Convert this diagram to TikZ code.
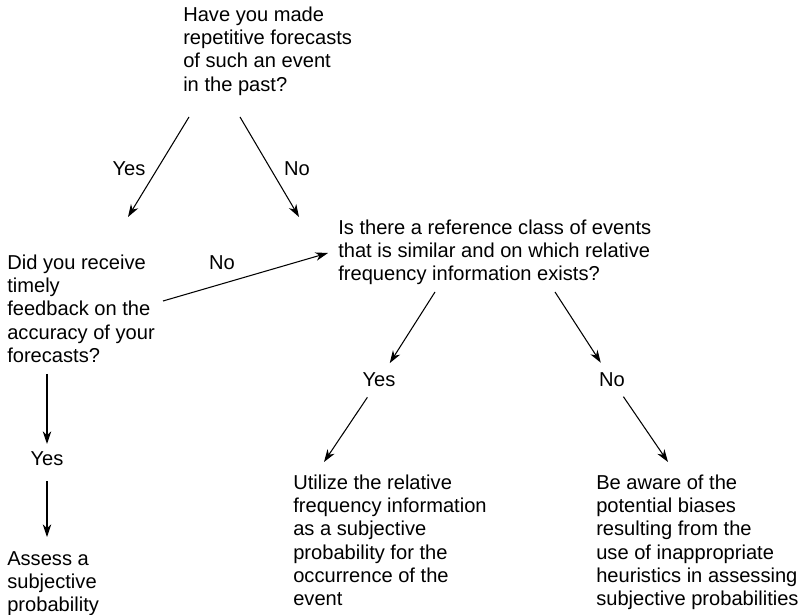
\documentclass[tikz,border=0pt]{standalone}
\usepackage{fontspec}
\setmainfont{Liberation Sans}
\usepackage{tikz}
\usetikzlibrary{arrows.meta}
\newcommand{\qfont}{\fontsize{14.3}{16.4}\selectfont}
\tikzset{
    question/.style={anchor=north west, inner sep=0pt, align=left, font=\qfont},
    choice/.style={inner sep=0pt, font=\qfont},
    link/.style={line width=0.75pt, black, -{Stealth[length=9pt,width=6pt,inset=2.8pt]}},
}

\begin{document}
\begin{tikzpicture}[x=0.025cm, y=-0.025cm]
    \useasboundingbox (0,0) rectangle (800,615);
    \node[question] (past) at (183,7) {Have you made\\repetitive forecasts\\of such an event\\in the past?};
    \node[question] (feedback) at (7,255) {Did you receive\\timely\\feedback on the\\accuracy of your\\forecasts?};
    \node[question] (refclass) at (338,220) {Is there a reference class of events\\that is similar and on which relative\\frequency information exists?};
    \node[question] (utilize) at (293,475) {Utilize the relative\\frequency information\\as a subjective\\probability for the\\occurrence of the\\event};
    \node[question] (aware) at (596,475) {Be aware of the\\potential biases\\resulting from the\\use of inappropriate\\heuristics in assessing\\subjective probabilities};
    \node[question] (assess) at (7,551) {Assess a\\subjective\\probability};
    \node[choice] (pastyes) at (129,169) {Yes};
    \node[choice] (pastno) at (297,169) {No};
    \node[choice] (feedno) at (222,263) {No};
    \node[choice] (feedyes) at (47,459) {Yes};
    \node[choice] (refyes) at (379,380) {Yes};
    \node[choice] (refno) at (612,380) {No};
    \coordinate (pastL) at (189,117);
    \coordinate (pastR) at (240,117);
    \coordinate (feedTip) at (128,217);
    \coordinate (refTip) at (299,217);
    \coordinate (feedOut) at (163,301);
    \coordinate (refIn) at (328,253);
    \coordinate (refL) at (435,292);
    \coordinate (refR) at (555,292);
    \coordinate (utilTip) at (324,462);
    \coordinate (awareTip) at (668,462);
    \coordinate (feedDown) at (47,374);
    \coordinate (assessTip) at (47,537);
    \draw[link] (pastL) -- (feedTip);
    \draw[link] (pastR) -- (refTip);
    \draw[link] (feedOut) -- (refIn);
    \draw[link, shorten >=0.5cm] (refL) -- (refyes.center);
    \draw[link, shorten >=0.515cm] (refR) -- (refno.center);
    \draw[link, shorten <=0.52cm] (refyes.center) -- (utilTip);
    \draw[link, shorten <=0.505cm] (refno.center) -- (awareTip);
    \draw[link, shorten >=0.375cm] (feedDown) -- (feedyes.center);
    \draw[link, shorten <=0.55cm] (feedyes.center) -- (assessTip);
\end{tikzpicture}
\end{document}
